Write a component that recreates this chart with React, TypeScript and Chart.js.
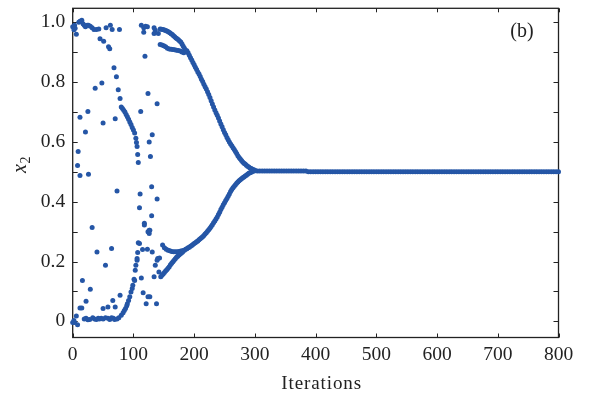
import React, { useEffect, useRef } from "react";
import { Chart, registerables } from "chart.js";

Chart.register(...registerables);

// ---------- data ----------
const xTicks = [0, 100, 200, 300, 400, 500, 600, 700, 800];
const yTicks = [0, 0.2, 0.4, 0.6, 0.8, 1.0];
const yMinorTicks = [0.1, 0.3, 0.5, 0.7, 0.9];

// scattered (chaotic) iterations
const scatterIter = [
  0, 2, 3, 4, 6, 10, 12, 15, 17, 19, 21, 24, 26, 29, 32, 35, 39, 43, 45, 51, 59, 61, 55, 62, 65, 77,
  113, 117, 120, 123, 117, 134, 136, 134, 141, 119,
  68, 72, 75, 78, 37, 48, 25, 12, 70, 112, 124, 139, 21, 50, 131, 126, 128, 9, 8, 12, 26, 73, 130,
  139, 111, 110, 130, 118, 32, 126,
  80, 82, 84, 86, 88, 90, 92, 94, 96, 98, 100, 102, 104, 105, 106, 107, 108,
  40, 64, 54, 16, 29, 22, 12, 15, 6, 0, 3, 8, 2,
  19, 22, 25, 28, 33, 36, 39, 42, 44, 47, 50, 54, 58, 61, 64, 67, 69, 73,
  50, 58, 66, 70, 78,
  76, 80, 83, 85, 87, 89, 90, 92, 94, 96, 98, 99, 101, 103, 104, 106, 107, 108,
  113, 116, 124, 121, 138, 134, 136, 140, 143, 131, 123, 118, 124, 127, 110, 115, 139, 142, 127,
  102, 106, 126,
];
const scatterVal = [
  0.985, 0.975, 0.99, 0.98, 0.96, 1.0, 1.004, 1.007, 0.995, 0.99, 0.985, 0.99, 0.99, 0.987, 0.982,
  0.976, 0.976, 0.978, 0.945, 0.937, 0.918, 0.912, 0.982, 0.99, 0.976, 0.976,
  0.99, 0.982, 0.987, 0.985, 0.967, 0.982, 0.974, 0.963, 0.963, 0.887,
  0.848, 0.818, 0.775, 0.745, 0.78, 0.797, 0.702, 0.683, 0.678, 0.702, 0.762, 0.728, 0.633, 0.663,
  0.624, 0.6, 0.551, 0.568, 0.521, 0.488, 0.492, 0.436, 0.45, 0.409, 0.426, 0.38, 0.353, 0.328,
  0.314, 0.305,
  0.717, 0.712, 0.706, 0.7, 0.692, 0.684, 0.676, 0.667, 0.658, 0.648, 0.64, 0.63, 0.612, 0.598,
  0.585, 0.558, 0.531,
  0.232, 0.244, 0.188, 0.137, 0.107, 0.067, 0.045, 0.045, 0.018, -0.004, -0.004, -0.011, 0.003,
  0.008, 0.01, 0.005, 0.006, 0.012, 0.008, 0.006, 0.01, 0.008, 0.01, 0.008, 0.012, 0.01, 0.006,
  0.012, 0.01, 0.006, 0.008,
  0.043, 0.048, 0.07, 0.048, 0.087,
  0.012, 0.02, 0.029, 0.036, 0.043, 0.052, 0.059, 0.07, 0.082, 0.098, 0.11, 0.121, 0.141, 0.171,
  0.188, 0.21, 0.23, 0.263,
  0.145, 0.096, 0.082, 0.059, 0.059, 0.149, 0.188, 0.21, 0.212, 0.232, 0.241, 0.322, 0.3, 0.305,
  0.26, 0.24, 0.204, 0.165, 0.082,
  0.137, 0.204, 0.294,
];

// upper branch, outer part (iterations 144, 146, ... 186)
const upperOuterStart = 144;
const upperOuterStep = 2;
const upperOuterVal = [
  0.978, 0.977, 0.976, 0.975, 0.974, 0.972, 0.97, 0.968, 0.965, 0.962, 0.959, 0.955, 0.952, 0.948,
  0.945, 0.942, 0.938, 0.934, 0.928, 0.92, 0.913, 0.907,
];

// upper branch, inner part (iterations 144, 147, ... 183)
const upperInnerStart = 144;
const upperInnerStep = 3;
const upperInnerVal = [
  0.926, 0.924, 0.922, 0.918, 0.913, 0.911, 0.91, 0.909, 0.908, 0.907, 0.906, 0.904, 0.901, 0.898,
];

// upper branch after merging (iterations 188, 190, ... 300)
const upperMainStart = 188;
const upperMainStep = 2;
const upperMainVal = [
  0.905, 0.898, 0.89, 0.882, 0.874, 0.866, 0.858, 0.85, 0.842, 0.834, 0.827, 0.819, 0.81, 0.802,
  0.793, 0.785, 0.777, 0.768, 0.759, 0.749, 0.738, 0.727, 0.717, 0.707, 0.698, 0.689, 0.68, 0.67,
  0.66, 0.651, 0.641, 0.632, 0.624, 0.615, 0.607, 0.6, 0.593, 0.587, 0.581, 0.575, 0.568, 0.561,
  0.554, 0.548, 0.543, 0.538, 0.533, 0.529, 0.526, 0.522, 0.519, 0.516, 0.513, 0.511, 0.509,
  0.507, 0.505,
];

// lower branch, upper hook (iterations 148, 151, ... 181)
const lowerHookStart = 148;
const lowerHookStep = 3;
const lowerHookVal = [
  0.255, 0.246, 0.241, 0.238, 0.236, 0.234, 0.233, 0.233, 0.233, 0.234, 0.235, 0.236,
];

// lower branch, lower part (iterations 145, 147, ... 181)
const lowerSubStart = 145;
const lowerSubStep = 2;
const lowerSubVal = [
  0.149, 0.154, 0.158, 0.163, 0.168, 0.173, 0.178, 0.183, 0.189, 0.194, 0.199, 0.204, 0.209,
  0.214, 0.218, 0.222, 0.225, 0.229, 0.232,
];

// lower branch after merging (iterations 182, 184, ... 300)
const lowerMainStart = 182;
const lowerMainStep = 2;
const lowerMainVal = [
  0.236, 0.238, 0.241, 0.243, 0.246, 0.248, 0.251, 0.254, 0.257, 0.26, 0.263, 0.266, 0.269, 0.273,
  0.276, 0.28, 0.283, 0.287, 0.292, 0.296, 0.301, 0.306, 0.311, 0.317, 0.323, 0.33, 0.336, 0.342,
  0.349, 0.357, 0.365, 0.374, 0.382, 0.39, 0.397, 0.404, 0.411, 0.418, 0.426, 0.434, 0.441, 0.447,
  0.452, 0.457, 0.462, 0.466, 0.47, 0.474, 0.477, 0.48, 0.483, 0.486, 0.489, 0.492, 0.495, 0.497,
  0.499, 0.501, 0.503, 0.504,
];

// converged part (iterations 304, 308, ... 800)
const convergedStart = 304;
const convergedStep = 4;
const convergedVal = [
  0.503, 0.503, 0.503, 0.503, 0.503, 0.503, 0.503, 0.503, 0.503, 0.503, 0.503, 0.503, 0.503,
  0.503, 0.503, 0.503, 0.503, 0.503, 0.503, 0.503, 0.503,
  0.5, 0.5, 0.5, 0.5, 0.5, 0.5, 0.5, 0.5, 0.5, 0.5, 0.5, 0.5, 0.5, 0.5, 0.5, 0.5, 0.5, 0.5, 0.5, 0.5,
  0.5, 0.5, 0.5, 0.5, 0.5, 0.5, 0.5, 0.5, 0.5, 0.5, 0.5, 0.5, 0.5, 0.5, 0.5, 0.5, 0.5, 0.5, 0.5, 0.5,
  0.5, 0.5, 0.5, 0.5, 0.5, 0.5, 0.5, 0.5, 0.5, 0.5, 0.5, 0.5, 0.5, 0.5, 0.5, 0.5, 0.5, 0.5, 0.5, 0.5,
  0.5, 0.5, 0.5, 0.5, 0.5, 0.5, 0.5, 0.5, 0.5, 0.5, 0.5, 0.5, 0.5, 0.5, 0.5, 0.5, 0.5, 0.5, 0.5, 0.5,
  0.5, 0.5, 0.5, 0.5, 0.5, 0.5, 0.5, 0.5, 0.5, 0.5, 0.5, 0.5, 0.5, 0.5, 0.5, 0.5, 0.5, 0.5, 0.5, 0.5,
  0.5, 0.5, 0.5, 0.5,
];

// ---------- style ----------
const COLOR = "#2556a6";
const INK = "#222222";
const TICK_FONT = '"Liberation Serif", "Times New Roman", serif';

const branch = (start: number, step: number, vals: number[]) =>
  vals.map((y, i) => ({ x: start + i * step, y }));

const framePlugin = {
  id: "frame",
  beforeDatasetsDraw(chart: any) {
    const { ctx, chartArea: a, scales } = chart;
    const x = scales.x;
    const y = scales.y;
    ctx.save();
    ctx.strokeStyle = INK;
    ctx.lineWidth = 1.3;
    ctx.strokeRect(a.left, a.top, a.right - a.left, a.bottom - a.top);
    ctx.lineWidth = 1;
    const seg = (x1: number, y1: number, x2: number, y2: number) => {
      ctx.beginPath();
      ctx.moveTo(x1, y1);
      ctx.lineTo(x2, y2);
      ctx.stroke();
    };
    for (const v of xTicks) {
      const p = Math.round(x.getPixelForValue(v)) + 0.5;
      seg(p, a.bottom, p, a.bottom - 4);
      seg(p, a.top, p, a.top + 4);
    }
    for (const v of [...yTicks, ...yMinorTicks]) {
      const p = Math.round(y.getPixelForValue(v)) + 0.5;
      seg(a.left, p, a.left + 5, p);
      seg(a.right, p, a.right - 5, p);
    }
    ctx.restore();
  },
  afterDraw(chart: any) {
    const { ctx, chartArea: a } = chart;
    ctx.save();
    ctx.fillStyle = INK;
    // x title
    ctx.font = `19px ${TICK_FONT}`;
    (ctx as any).letterSpacing = "0.9px";
    ctx.textAlign = "center";
    ctx.textBaseline = "alphabetic";
    ctx.fillText("Iterations", (a.left + a.right) / 2 + 6, 388.5);
    (ctx as any).letterSpacing = "0px";
    // panel label
    ctx.font = `20px ${TICK_FONT}`;
    ctx.fillText("(b)", 522, 37);
    // y title (rotated x_2)
    ctx.translate(26, 165);
    ctx.rotate(-Math.PI / 2);
    ctx.textAlign = "left";
    ctx.font = `italic 20px ${TICK_FONT}`;
    ctx.fillText("x", -8, 0);
    ctx.font = `14px ${TICK_FONT}`;
    ctx.fillText("2", 1.5, 3.5);
    ctx.restore();
  },
};

export default function App() {
  const ref = useRef<HTMLCanvasElement | null>(null);

  useEffect(() => {
    if (!ref.current) return;
    const mk = (data: { x: number; y: number }[]) => ({
      data,
      showLine: false,
      pointRadius: 2.5,
      pointHoverRadius: 2.5,
      pointBackgroundColor: COLOR,
      pointBorderWidth: 0,
      borderColor: COLOR,
      clip: false as any,
    });
    const chart = new Chart(ref.current, {
      type: "scatter",
      data: {
        datasets: [
          mk(scatterIter.map((x, i) => ({ x, y: scatterVal[i] }))),
          mk(branch(upperOuterStart, upperOuterStep, upperOuterVal)),
          mk(branch(upperInnerStart, upperInnerStep, upperInnerVal)),
          mk(branch(upperMainStart, upperMainStep, upperMainVal)),
          mk(branch(lowerHookStart, lowerHookStep, lowerHookVal)),
          mk(branch(lowerSubStart, lowerSubStep, lowerSubVal)),
          mk(branch(lowerMainStart, lowerMainStep, lowerMainVal)),
          mk(branch(convergedStart, convergedStep, convergedVal)),
        ],
      },
      options: {
        responsive: false,
        animation: false,
        events: [],
        layout: { padding: { left: 0, top: 8.3, right: 33.5, bottom: 0 } },
        plugins: { legend: { display: false }, tooltip: { enabled: false } },
        scales: {
          x: {
            type: "linear",
            min: 0,
            max: 800,
            grid: { display: false, drawTicks: false },
            border: { display: false },
            afterBuildTicks: (s: any) => {
              s.ticks = xTicks.map((v) => ({ value: v }));
            },
            afterFit: (s: any) => {
              s.height = 394 - 337.5;
              s.paddingLeft = 0;
              s.paddingRight = 0;
            },
            ticks: {
              padding: 6,
              color: INK,
              font: { family: TICK_FONT, size: 19.5 },
              maxRotation: 0,
              callback: (v: any) => String(v),
            },
          },
          y: {
            type: "linear",
            min: -0.054,
            max: 1.047,
            grid: { display: false, drawTicks: false },
            border: { display: false },
            afterBuildTicks: (s: any) => {
              s.ticks = yTicks.map((v) => ({ value: v }));
            },
            afterFit: (s: any) => {
              s.width = 72.7;
              s.paddingTop = 0;
              s.paddingBottom = 0;
            },
            ticks: {
              padding: 7.5,
              color: INK,
              font: { family: TICK_FONT, size: 19.5 },
              callback: (v: any) => (Number(v) === 0 ? "0" : Number(v).toFixed(1)),
            },
          },
        },
      },
      plugins: [framePlugin],
    });
    return () => chart.destroy();
  }, []);

  return (
    <div style={{ position: "fixed", left: 0, top: 0, width: 592, height: 394, background: "#fff" }}>
      <canvas ref={ref} width={592} height={394} style={{ display: "block" }} />
    </div>
  );
}
